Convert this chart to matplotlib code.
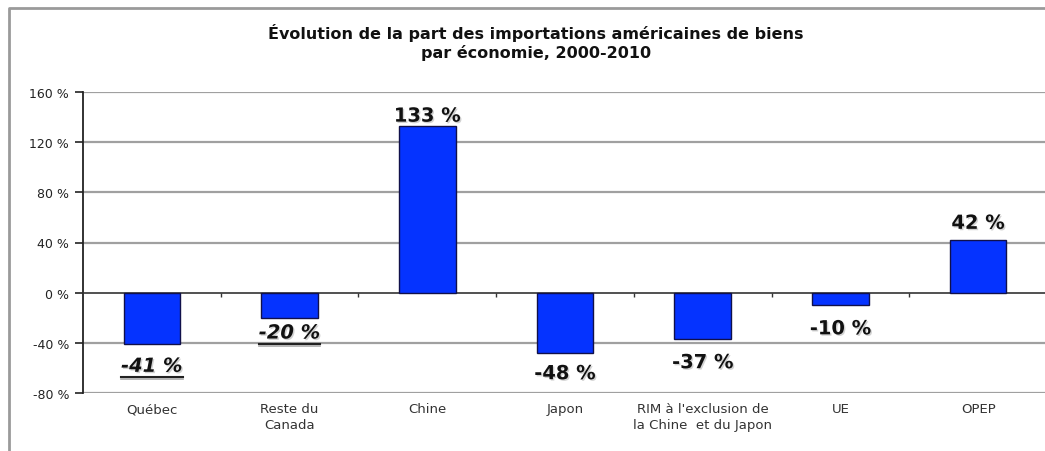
import numpy as np
import matplotlib
matplotlib.use("Agg")
import matplotlib.pyplot as plt
import matplotlib.patheffects as pe
from matplotlib.lines import Line2D
import matplotlib.transforms as mtransforms

# data
categories = ["Québec", "Reste du\nCanada", "Chine", "Japon",
              "RIM à l'exclusion de\nla Chine  et du Japon", "UE", "OPEP"]
values = [-41, -20, 133, -48, -37, -10, 42]
labels = ["-41 %", "-20 %", "133 %", "-48 %", "-37 %", "-10 %", "42 %"]
underlined = [True, True, False, False, False, False, False]
yticks = [-80, -40, 0, 40, 80, 120, 160]

# label offsets (points) from bar end
label_off = [-16, -11, 7, -15, -17, -17, 12]

W, H = 1045, 452
fig = plt.figure(figsize=(W / 100, H / 100), dpi=100)
ax = fig.add_axes([83 / W, (H - 394) / H, 964 / W, (394 - 93) / H])

x = np.arange(len(values))
ax.bar(x, values, width=0.41, color="#0533ff", edgecolor="#10104a", linewidth=1, zorder=3)

ax.set_xlim(-0.5, len(values) - 0.5)
ax.set_ylim(-80, 160)
ax.set_yticks(yticks)
ax.set_yticklabels([f"{t} %" for t in yticks], fontsize=9, color="#222222")
for t in yticks:
    if t != 0:
        ax.axhline(t, color="#a0a0a0", lw=1.6, zorder=1)

for s in ["top", "right"]:
    ax.spines[s].set_visible(False)
ax.spines["left"].set_color("#222222")
ax.spines["left"].set_linewidth(1.3)
ax.spines["bottom"].set_position(("data", 0))
ax.spines["bottom"].set_color("#333333")
ax.spines["bottom"].set_linewidth(1.2)
ax.tick_params(axis="y", length=6, width=1.2, color="#222222", pad=4)
ax.set_xticks([])
ax.set_xticks(x[:-1] + 0.5, minor=True)
ax.tick_params(axis="x", which="minor", length=3, width=1, color="#333333", direction="out")

# category labels at the bottom
trans = mtransforms.blended_transform_factory(ax.transData, ax.transAxes)
for i, c in enumerate(categories):
    ax.text(i, -0.03, c, transform=trans, ha="center", va="top", fontsize=9.5,
            color="#333333", linespacing=1.25)

shadow = [pe.withSimplePatchShadow(offset=(1, -1), shadow_rgbFace="#c0c0c0", alpha=0.7)]
texts = []
for i, (v, lab, u, off) in enumerate(zip(values, labels, underlined, label_off)):
    t = ax.annotate(lab, (i, v), xytext=(0, off), textcoords="offset points",
                    ha="center", va="center", fontsize=14, fontweight="bold",
                    fontstyle="italic" if u else "normal", color="#111111",
                    path_effects=shadow, zorder=5)
    texts.append((t, u))

# underline for italic labels
fig.canvas.draw()
for t, u in texts:
    if not u:
        continue
    bb = t.get_window_extent()
    y0 = bb.y0 - 1
    fig.add_artist(Line2D([bb.x0 / W, bb.x1 / W], [y0 / H, y0 / H], color="#222222", lw=1.5))
    fig.add_artist(Line2D([bb.x0 / W, bb.x1 / W], [(y0 - 2) / H, (y0 - 2) / H], color="#aaaaaa", lw=1.2))

fig.text(536 / W, (H - 33) / H, "Évolution de la part des importations américaines de biens",
         ha="center", va="center", fontsize=11.5, fontweight="bold", color="#111111")
fig.text(536 / W, (H - 53) / H, "par économie, 2000-2010",
         ha="center", va="center", fontsize=11.5, fontweight="bold", color="#111111")

# outer frame
fig.add_artist(Line2D([9 / W, 9 / W, 1], [0, 1 - 9 / H, 1 - 9 / H], color="#9a9a9a", lw=2))

fig.savefig("out.png", dpi=100)
